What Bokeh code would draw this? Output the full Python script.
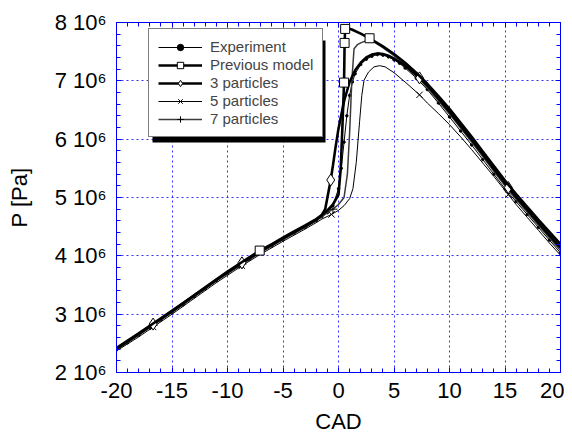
from bokeh.plotting import figure
from bokeh.models import (FixedTicker, CustomJSTickFormatter, LinearAxis, Legend,
                          LegendItem, BoxAnnotation, Range1d)
from bokeh.embed import file_html
from bokeh.resources import INLINE

# ---------------- data (pressure in units of 1e6 Pa) ----------------
exp_x = [-20, -19, -18, -17, -16, -15, -14, -13, -12, -11, -10, -9, -8, -7, -6, -5, -4, -3, -2,
         -1.5, -1, -0.5, 0, 0.25, 0.5, 0.75, 1, 1.25, 1.5,
         2, 2.5, 3, 3.5, 4, 4.5, 5, 5.5, 6,
         7, 8, 9, 10, 11, 12, 13, 14, 15, 16, 17, 18, 19, 20]
exp_y = [2.39, 2.51, 2.64, 2.77, 2.90, 3.03, 3.16, 3.30, 3.43, 3.57, 3.70, 3.82, 3.94, 4.06, 4.17, 4.28, 4.39, 4.49, 4.60,
         4.67, 4.74, 4.86, 5.15, 5.50, 5.95, 6.40, 6.75, 6.98, 7.12,
         7.28, 7.37, 7.42, 7.45, 7.44, 7.41, 7.36, 7.30, 7.22,
         7.05, 6.85, 6.62, 6.38, 6.14, 5.90, 5.65, 5.40, 5.15, 4.93, 4.71, 4.49, 4.27, 4.05]

prev_x = [-20, -18, -16, -14, -12, -10, -8, -7.1, -6, -5, -4, -3, -2,
          -1.5, -1, -0.5, 0, 0.2, 0.35, 0.5, 0.55, 0.6, 0.8, 1.2, 2, 2.8,
          4, 5, 6, 7, 8, 9, 10, 11, 12, 13, 14, 15, 16, 17, 18, 19, 20]
prev_y = [2.42, 2.67, 2.93, 3.19, 3.46, 3.73, 3.98, 4.09, 4.20, 4.31, 4.42, 4.52, 4.63,
          4.70, 4.78, 4.88, 5.05, 5.50, 6.20, 6.97, 7.65, 7.89, 7.90, 7.88, 7.81, 7.73,
          7.59, 7.46, 7.31, 7.14, 6.95, 6.74, 6.52, 6.28, 6.04, 5.79, 5.54, 5.29, 5.06, 4.84, 4.62, 4.41, 4.20]
prev_mk = [-7.1, 0.5, 0.55, 0.6, 2.8]

p3_x = [-20, -18, -16.7, -15, -13, -11, -8.7, -7, -5, -3, -2,
        -1.5, -1.2, -0.7, -0.5, -0.25, 0, 0.5, 1, 1.5, 2, 2.5, 3, 3.5, 4, 4.5, 5, 6,
        7.3, 8, 9, 10, 11, 12, 13, 14, 15.3, 16, 17, 18, 19, 20]
p3_y = [2.41, 2.66, 2.83, 3.05, 3.32, 3.59, 3.88, 4.08, 4.30, 4.51, 4.62,
        4.70, 4.80, 5.30, 5.55, 5.88, 6.18, 6.65, 6.98, 7.18, 7.31, 7.40, 7.45, 7.47, 7.46, 7.43, 7.38, 7.26,
        7.05, 6.92, 6.70, 6.47, 6.23, 5.99, 5.74, 5.49, 5.17, 5.01, 4.79, 4.57, 4.35, 4.14]
p3_mk = [-16.7, -8.7, -0.7, 7.3, 15.3]

p5_x = [-20, -18, -16.7, -15, -13, -11, -8.7, -7, -5, -3, -2,
        -1.5, -0.63, 0, 0.5, 1, 1.3, 1.6, 1.9, 2.1, 2.3, 2.7, 3.2, 3.7, 4.2,
        5, 6, 7.3, 8, 9, 10, 11, 12, 13, 14, 15.3, 16, 17, 18, 19, 20]
p5_y = [2.37, 2.61, 2.78, 3.00, 3.27, 3.54, 3.83, 4.03, 4.25, 4.46, 4.57,
        4.63, 4.71, 4.78, 4.86, 4.98, 5.15, 5.60, 6.30, 6.75, 7.01, 7.15, 7.24, 7.26, 7.24,
        7.14, 6.98, 6.76, 6.62, 6.44, 6.25, 6.04, 5.82, 5.59, 5.36, 5.05, 4.88, 4.66, 4.44, 4.22, 4.01]
p5_mk = [-16.7, -8.7, -0.63, 7.3, 15.3]

p7_x = [-20, -18, -16.7, -15, -13, -11, -8.7, -7, -5, -3, -2,
        -1.5, -1, -0.5, 0, 0.5, 0.8, 1.0, 1.2, 1.4, 1.7, 2.0, 2.4, 3,
        4, 5, 6, 7.3, 8, 9, 10, 11, 12, 13, 14, 15.3, 16, 17, 18, 19, 20]
p7_y = [2.39, 2.64, 2.81, 3.03, 3.30, 3.57, 3.86, 4.06, 4.28, 4.49, 4.60,
        4.67, 4.74, 4.80, 4.88, 5.00, 5.40, 6.10, 7.00, 7.55, 7.62, 7.65, 7.68, 7.69,
        7.57, 7.43, 7.27, 7.03, 6.88, 6.66, 6.43, 6.19, 5.95, 5.70, 5.45, 5.13, 4.97, 4.75, 4.53, 4.31, 4.09]
p7_mk = [-16.7, -8.7, -0.5, 7.3, 15.3]

x_major = [-20, -15, -10, -5, 0, 5, 10, 15, 20]
y_major = [2, 3, 4, 5, 6, 7, 8]

labels = ["Experiment", "Previous model", "3 particles", "5 particles", "7 particles"]

SCALE = 1e6


def pa(vals):
    return [v * SCALE for v in vals]


def pick(xs, ys, mk):
    idx = [xs.index(v) for v in mk]
    return [xs[i] for i in idx], [ys[i] * SCALE for i in idx]


FONT = "Liberation Sans"
BLUE = "#0000ff"

p = figure(width=564, height=436, x_range=Range1d(-20, 20), y_range=Range1d(2e6, 8e6),
           output_backend="svg", toolbar_location=None,
           min_border_left=116, min_border_right=4, min_border_top=22, min_border_bottom=61)
p.outline_line_color = BLUE
p.background_fill_color = "white"
p.border_fill_color = "white"

xt = FixedTicker(ticks=x_major, minor_ticks=list(range(-20, 21)))
yt = FixedTicker(ticks=[v * SCALE for v in y_major],
                 minor_ticks=[(2 + 0.2 * k) * SCALE for k in range(31)])
xfmt = CustomJSTickFormatter(code="return tick.toFixed(0);")
yfmt = CustomJSTickFormatter(code="return Math.round(tick/1e6) + ' 10\u2076';")
nofmt = CustomJSTickFormatter(code="return '';")


def style_axis(ax, show_labels=True):
    ax.axis_line_color = BLUE
    ax.major_tick_line_color = BLUE
    ax.minor_tick_line_color = BLUE
    ax.major_tick_in = 5
    ax.major_tick_out = 0
    ax.minor_tick_in = 4
    ax.minor_tick_out = 0
    ax.major_label_text_font = FONT
    ax.major_label_text_color = "black"
    ax.axis_label_text_font = FONT
    ax.axis_label_text_font_style = "normal"
    ax.axis_label_text_font_size = "22px"
    ax.axis_label_text_color = "black"
    if show_labels:
        ax.major_label_text_font_size = "22px"
    else:
        ax.major_label_text_font_size = "1px"
        ax.major_label_standoff = 0


xa = p.xaxis[0]
xa.ticker = xt
xa.formatter = xfmt
style_axis(xa)
xa.axis_label = "CAD"
xa.major_label_standoff = 10
xa.axis_label_standoff = 8

ya = p.yaxis[0]
ya.ticker = yt
ya.formatter = yfmt
style_axis(ya)
ya.axis_label = "P [Pa]"
ya.major_label_standoff = 10
ya.axis_label_standoff = 20

top = LinearAxis(ticker=xt, formatter=nofmt)
style_axis(top, False)
p.add_layout(top, "above")
right = LinearAxis(ticker=yt, formatter=nofmt)
style_axis(right, False)
p.add_layout(right, "right")

for g, t in ((p.xgrid[0], xt), (p.ygrid[0], yt)):
    g.ticker = t
    g.grid_line_color = "#3030ff"
    g.grid_line_dash = "2 3"
    g.grid_line_width = 1

# legend drop shadow
shadow = BoxAnnotation(left=152, right=325, top=40, bottom=142,
                       left_units="canvas", right_units="canvas",
                       top_units="canvas", bottom_units="canvas",
                       fill_color="black", fill_alpha=1.0, line_color=None)
p.add_layout(shadow)

# series
l_exp = p.line(exp_x, pa(exp_y), line_color="black", line_width=1)
d_exp = p.scatter(exp_x, pa(exp_y), marker="circle", size=2.5, color="black")

l_p5 = p.line(p5_x, pa(p5_y), line_color="black", line_width=1)
mx, my = pick(p5_x, p5_y, p5_mk)
m_p5 = p.scatter(mx, my, marker="x", size=9, line_color="black", line_width=1)

l_p7 = p.line(p7_x, pa(p7_y), line_color="#3a3a3a", line_width=1.5)
mx, my = pick(p7_x, p7_y, p7_mk)
m_p7 = p.scatter(mx, my, marker="cross", size=9, line_color="black", line_width=1)

l_p3 = p.line(p3_x, pa(p3_y), line_color="black", line_width=2.6)
mx, my = pick(p3_x, p3_y, p3_mk)
m_p3 = p.scatter(mx, my, marker="diamond", size=12, fill_color="white", line_color="black", line_width=1)

l_prev = p.line(prev_x, pa(prev_y), line_color="black", line_width=2.6)
mx, my = pick(prev_x, prev_y, prev_mk)
m_prev = p.scatter(mx, my, marker="square", size=9, fill_color="white", line_color="black", line_width=1)

legend = Legend(items=[
    LegendItem(label=labels[0], renderers=[l_exp, d_exp]),
    LegendItem(label=labels[1], renderers=[l_prev, m_prev]),
    LegendItem(label=labels[2], renderers=[l_p3, m_p3]),
    LegendItem(label=labels[3], renderers=[l_p5, m_p5]),
    LegendItem(label=labels[4], renderers=[l_p7, m_p7]),
], location=(32, 235))
legend.border_line_color = "black"
legend.border_line_width = 1
legend.background_fill_color = "white"
legend.background_fill_alpha = 1.0
legend.label_text_font = FONT
legend.label_text_font_size = "15px"
legend.glyph_width = 44
legend.glyph_height = 16
legend.label_height = 16
legend.spacing = 1
legend.padding = 9
legend.label_standoff = 8
legend.margin = 0
p.add_layout(legend)

with open("out.html", "w", encoding="utf-8") as f:
    f.write(file_html(p, INLINE))
